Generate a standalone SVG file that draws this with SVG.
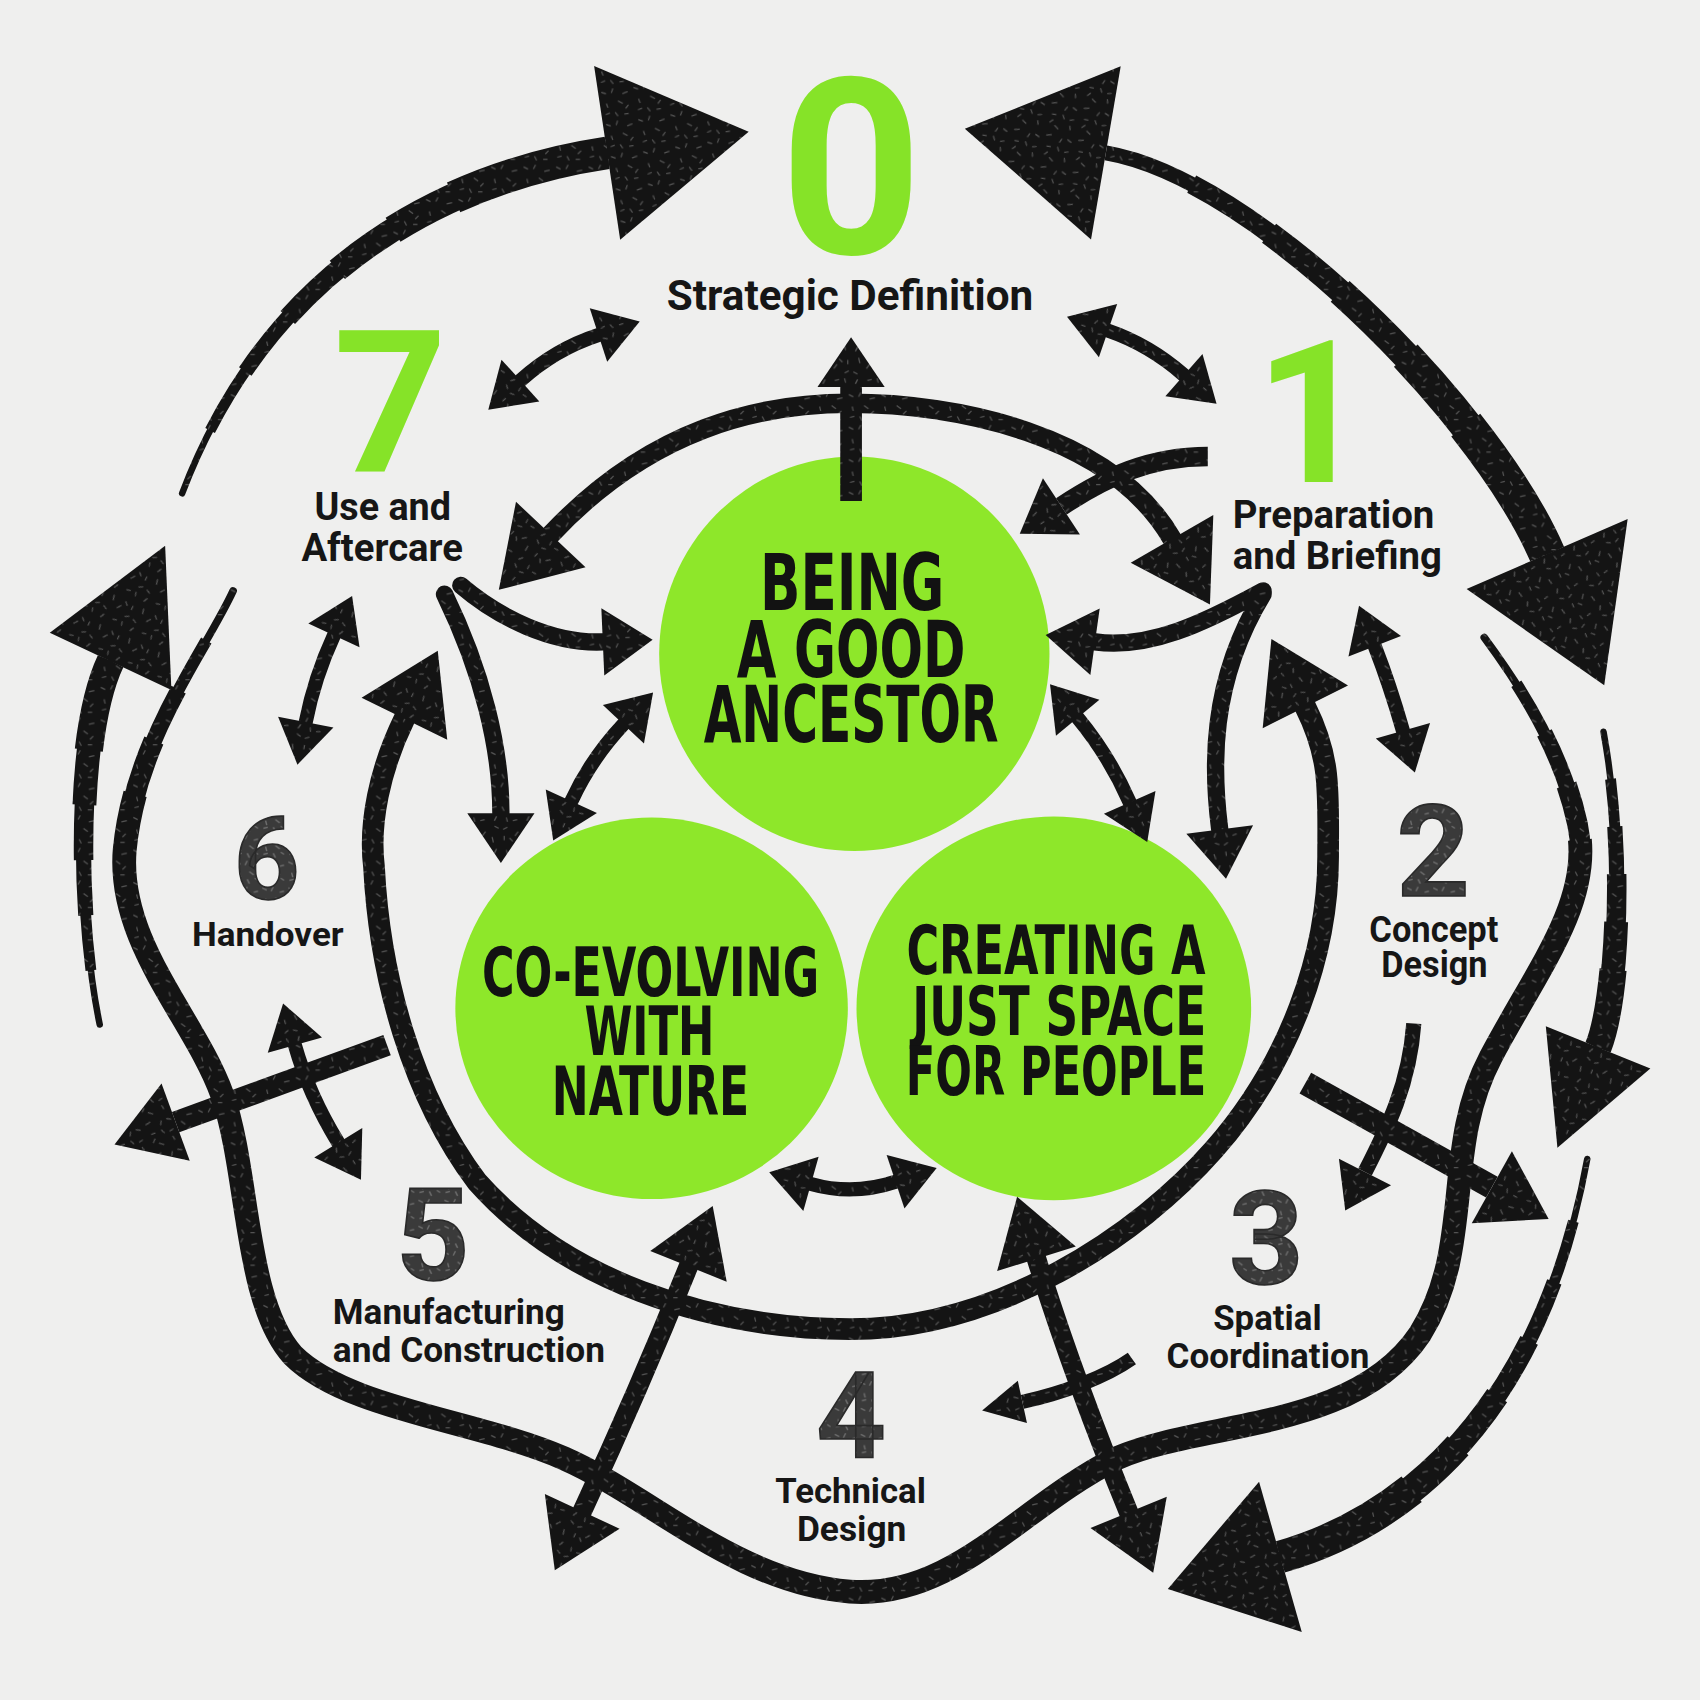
<svg xmlns="http://www.w3.org/2000/svg" xmlns:xlink="http://www.w3.org/1999/xlink" width="1700" height="1700" viewBox="0 0 1700 1700">
<defs>
<pattern id="tex" width="30" height="30" patternUnits="userSpaceOnUse">
<rect width="30" height="30" fill="#141414"/>
<path d="M3,4 l4,2 M14,2 l-2,4 M22,8 l5,-1 M6,15 l1,4 M17,14 l4,3 M26,19 l-3,3 M4,25 l4,-1 M13,24 l2,4 M21,27 l4,0" stroke="#555" stroke-width="1.1" fill="none"/>
</pattern>
<pattern id="tex2" width="24" height="24" patternUnits="userSpaceOnUse">
<rect width="24" height="24" fill="#3a3a3a"/>
<path d="M2,3 l4,2 M12,2 l-2,4 M18,7 l4,-1 M5,13 l1,4 M14,12 l4,3 M3,20 l4,-1 M12,19 l2,4 M19,18 l3,2" stroke="#6e6e6e" stroke-width="1.3" fill="none"/>
</pattern>
<marker id="hXL" markerUnits="userSpaceOnUse" orient="auto-start-reverse" overflow="visible" markerWidth="1" markerHeight="1"><path d="M0,-81 L132,0 L0,81 Z" fill="url(#tex)"/></marker>
<marker id="hBR" markerUnits="userSpaceOnUse" orient="auto-start-reverse" overflow="visible" markerWidth="1" markerHeight="1"><path d="M0,-72 L108,0 L0,72 Z" fill="url(#tex)"/></marker>
<marker id="hL" markerUnits="userSpaceOnUse" orient="auto-start-reverse" overflow="visible" markerWidth="1" markerHeight="1"><path d="M0,-62 L118,0 L0,62 Z" fill="url(#tex)"/></marker>
<marker id="h4" markerUnits="userSpaceOnUse" orient="auto-start-reverse" overflow="visible" markerWidth="1" markerHeight="1"><path d="M0,-52 L100,0 L0,52 Z" fill="url(#tex)"/></marker>
<marker id="hM" markerUnits="userSpaceOnUse" orient="auto-start-reverse" overflow="visible" markerWidth="1" markerHeight="1"><path d="M0,-44 L70,0 L0,44 Z" fill="url(#tex)"/></marker>
<marker id="hLD" markerUnits="userSpaceOnUse" orient="auto-start-reverse" overflow="visible" markerWidth="1" markerHeight="1"><path d="M0,-38 L60,0 L0,38 Z" fill="url(#tex)"/></marker>
<marker id="hS" markerUnits="userSpaceOnUse" orient="auto-start-reverse" overflow="visible" markerWidth="1" markerHeight="1"><path d="M0,-31 L46,0 L0,31 Z" fill="url(#tex)"/></marker>
<marker id="hS2" markerUnits="userSpaceOnUse" orient="auto-start-reverse" overflow="visible" markerWidth="1" markerHeight="1"><path d="M0,-27 L40,0 L0,27 Z" fill="url(#tex)"/></marker>
<marker id="hXS" markerUnits="userSpaceOnUse" orient="auto-start-reverse" overflow="visible" markerWidth="1" markerHeight="1"><path d="M0,-26 L40,0 L0,26 Z" fill="url(#tex)"/></marker>
<marker id="hT" markerUnits="userSpaceOnUse" orient="auto-start-reverse" overflow="visible" markerWidth="1" markerHeight="1"><path d="M0,-20 L38,0 L0,20 Z" fill="url(#tex)"/></marker>
<path id="pA" pathLength="100" d="M560,141 C420,162 250,240 168,455"/>
<path id="pB" pathLength="100" d="M1020,141 C1160,165 1370,380 1427,511"/>
<path id="pC" pathLength="100" d="M102,610 C69,680 72,850 92,945"/>
<path id="pD" pathLength="100" d="M215,545 C190,600 125,680 115,784 C108,870 180,940 205,1010 C230,1080 225,1200 270,1250 C320,1300 440,1310 520,1345 C600,1380 680,1460 784,1468 C880,1475 940,1390 1030,1345 C1110,1310 1250,1320 1310,1230 C1360,1150 1330,1060 1375,975 C1420,890 1470,830 1455,760 C1440,690 1400,630 1369,588"/>
<path id="pE" pathLength="100" d="M1474,966 C1491,924 1500,790 1479,675"/>
<path id="pF" pathLength="100" d="M1181,1436 C1290,1405 1420,1310 1464,1069"/>
</defs>
<style>
.k{fill:none;stroke:url(#tex);stroke-linecap:round;stroke-linejoin:round}
.b{fill:none;stroke:url(#tex);stroke-linecap:butt}
.circ{fill:#8ee72a}
.ct{font-family:"Liberation Sans Narrow","DejaVu Sans Condensed",Roboto,sans-serif;font-weight:700;fill:#121212;text-anchor:middle}
.lbl{font-family:Roboto,"Liberation Sans",sans-serif;font-weight:700;fill:#161616}
.gn{font-family:Roboto,"Liberation Sans",sans-serif;font-weight:700;fill:#86e328;text-anchor:middle}
.dn{font-family:Roboto,"Liberation Sans",sans-serif;font-weight:700;fill:url(#tex2);stroke:#2a2a2a;stroke-width:1.5;text-anchor:middle}
</style>
<rect width="1700" height="1700" fill="#efefee"/>
<g transform="scale(1.084184)">
<g id="circle-ancestor">
<ellipse class="circ" cx="788" cy="603" rx="180" ry="182"/>
<text class="ct" font-size="72"><tspan x="786" y="563" textLength="170" lengthAdjust="spacingAndGlyphs">BEING</tspan><tspan x="785" y="624" textLength="211" lengthAdjust="spacingAndGlyphs">A GOOD</tspan><tspan x="785" y="684" textLength="272" lengthAdjust="spacingAndGlyphs">ANCESTOR</tspan></text>
</g>
<g id="circle-nature">
<ellipse class="circ" cx="601" cy="930" rx="181" ry="176"/>
<text class="ct" font-size="62"><tspan x="600" y="919" textLength="311" lengthAdjust="spacingAndGlyphs">CO-EVOLVING</tspan><tspan x="599" y="973" textLength="120" lengthAdjust="spacingAndGlyphs">WITH</tspan><tspan x="600" y="1028" textLength="182" lengthAdjust="spacingAndGlyphs">NATURE</tspan></text>
</g>
<g id="circle-people">
<ellipse class="circ" cx="972" cy="930" rx="182" ry="177"/>
<text class="ct" font-size="62"><tspan x="974" y="898" textLength="276" lengthAdjust="spacingAndGlyphs">CREATING A</tspan><tspan x="977" y="955" textLength="271" lengthAdjust="spacingAndGlyphs">JUST SPACE</tspan><tspan x="974" y="1010" textLength="277" lengthAdjust="spacingAndGlyphs">FOR PEOPLE</tspan></text>
</g>
<g id="connectors">
<use href="#pA" class="k" stroke-width="6" marker-start="url(#hXL)"/>
<use href="#pA" class="b" stroke-width="10" stroke-dasharray="88 200"/>
<use href="#pA" class="b" stroke-width="14" stroke-dasharray="76 200"/>
<use href="#pA" class="b" stroke-width="18" stroke-dasharray="64 200"/>
<use href="#pA" class="b" stroke-width="22" stroke-dasharray="52 200"/>
<use href="#pA" class="b" stroke-width="26" stroke-dasharray="40 200"/>
<use href="#pA" class="b" stroke-width="30" stroke-dasharray="28 200"/>
<use href="#pB" class="b" stroke-width="14" marker-start="url(#hXL)" marker-end="url(#hXL)"/>
<use href="#pB" class="b" stroke-width="18" stroke-dasharray="85 200" stroke-dashoffset="-15"/>
<use href="#pB" class="b" stroke-width="22" stroke-dasharray="70 200" stroke-dashoffset="-30"/>
<use href="#pB" class="b" stroke-width="26" stroke-dasharray="55 200" stroke-dashoffset="-45"/>
<use href="#pB" class="b" stroke-width="30" stroke-dasharray="40 200" stroke-dashoffset="-60"/>
<use href="#pB" class="b" stroke-width="34" stroke-dasharray="25 200" stroke-dashoffset="-75"/>
<use href="#pC" class="k" stroke-width="6" marker-start="url(#hL)"/>
<use href="#pC" class="b" stroke-width="10" stroke-dasharray="85 200"/>
<use href="#pC" class="b" stroke-width="14" stroke-dasharray="70 200"/>
<use href="#pC" class="b" stroke-width="18" stroke-dasharray="55 200"/>
<use href="#pC" class="b" stroke-width="22" stroke-dasharray="40 200"/>
<use href="#pC" class="b" stroke-width="26" stroke-dasharray="25 200"/>
<use href="#pD" class="k" stroke-width="7"/>
<use href="#pD" class="b" stroke-width="11" stroke-dasharray="96 200" stroke-dashoffset="-2"/>
<use href="#pD" class="b" stroke-width="15" stroke-dasharray="92 200" stroke-dashoffset="-4"/>
<use href="#pD" class="b" stroke-width="19" stroke-dasharray="88 200" stroke-dashoffset="-6"/>
<use href="#pD" class="b" stroke-width="22" stroke-dasharray="84 200" stroke-dashoffset="-8"/>
<use href="#pE" class="k" stroke-width="6" marker-start="url(#h4)"/>
<use href="#pE" class="b" stroke-width="10" stroke-dasharray="85 200"/>
<use href="#pE" class="b" stroke-width="14" stroke-dasharray="70 200"/>
<use href="#pE" class="b" stroke-width="18" stroke-dasharray="55 200"/>
<use href="#pE" class="b" stroke-width="22" stroke-dasharray="40 200"/>
<use href="#pE" class="b" stroke-width="25" stroke-dasharray="25 200"/>
<use href="#pF" class="k" stroke-width="6" marker-start="url(#hBR)"/>
<use href="#pF" class="b" stroke-width="10" stroke-dasharray="88 200"/>
<use href="#pF" class="b" stroke-width="14" stroke-dasharray="76 200"/>
<use href="#pF" class="b" stroke-width="18" stroke-dasharray="64 200"/>
<use href="#pF" class="b" stroke-width="22" stroke-dasharray="52 200"/>
<use href="#pF" class="b" stroke-width="26" stroke-dasharray="40 200"/>
<use href="#pF" class="b" stroke-width="30" stroke-dasharray="28 200"/>
<path class="k" stroke-width="18" d="M508,493 C600,395 700,372 784,372 C880,372 1025,400 1081,497" marker-start="url(#hM)" marker-end="url(#hM)"/>
<path class="k" stroke-width="20" d="M373,663 C350,710 340,760 345,800 C350,900 380,1010 440,1090 C520,1180 650,1225 784,1226 C920,1226 1050,1140 1120,1060 C1190,980 1225,880 1225,790 C1225,730 1228,700 1204,652" marker-start="url(#hM)" marker-end="url(#hM)"/>
<path class="k" stroke-width="16" d="M556,592 C510,594 460,570 425,540" marker-start="url(#hS)"/>
<path class="k" stroke-width="16" d="M462,750 C462,690 445,620 410,548" marker-start="url(#hS)"/>
<path class="k" stroke-width="16" d="M1010,592 C1060,599 1110,575 1165,545" marker-start="url(#hS)"/>
<path class="k" stroke-width="16" d="M1125,765 C1118,710 1115,630 1165,548" marker-start="url(#hS)"/>
<path class="b" stroke-width="20" d="M785,357 L785,462" marker-start="url(#hS)"/>
<path class="b" stroke-width="18" d="M979,467 C1020,440 1060,421 1114,421" marker-start="url(#hS)"/>
<path class="k" stroke-width="13" d="M480,351 Q512,322 552,309" marker-start="url(#hXS)" marker-end="url(#hXS)"/>
<path class="k" stroke-width="13" d="M1022,305 Q1060,318 1092,346" marker-start="url(#hXS)" marker-end="url(#hXS)"/>
<path class="k" stroke-width="13" d="M308,586 Q290,625 282,666" marker-start="url(#hXS)" marker-end="url(#hXS)"/>
<path class="k" stroke-width="13" d="M1268,596 Q1282,632 1294,674" marker-start="url(#hXS)" marker-end="url(#hXS)"/>
<path class="k" stroke-width="13" d="M575,668 Q545,700 527,739" marker-start="url(#hXS)" marker-end="url(#hXS)"/>
<path class="k" stroke-width="13" d="M994,662 Q1023,697 1042,740" marker-start="url(#hXS)" marker-end="url(#hXS)"/>
<path class="k" stroke-width="13" d="M748,1092 Q787,1103 826,1090" marker-start="url(#hXS)" marker-end="url(#hXS)"/>
<path class="k" stroke-width="13" d="M272,964 Q285,1010 312,1054" marker-start="url(#hXS)" marker-end="url(#hXS)"/>
<path class="k" stroke-width="18" d="M635,1168 Q590,1280 537,1394" marker-start="url(#hLD)" marker-end="url(#hLD)"/>
<path class="k" stroke-width="18" d="M956,1161 Q990,1270 1041,1395" marker-start="url(#hLD)" marker-end="url(#hLD)"/>
<path class="b" stroke-width="20" d="M162,1035 L357,964" marker-start="url(#hLD)"/>
<path class="b" stroke-width="22" d="M1376,1095 L1204,999" marker-start="url(#hLD)"/>
<path class="b" stroke-width="14" d="M1259,1081 C1280,1040 1300,1000 1304,944" marker-start="url(#hS2)"/>
<path class="b" stroke-width="13" d="M943,1293 C980,1285 1020,1270 1044,1253" marker-start="url(#hT)"/>
</g>
<g id="stage-0">
<text class="gn" x="785" y="234" font-size="228">0</text>
<text class="lbl" x="615" y="286" font-size="40" textLength="338" lengthAdjust="spacingAndGlyphs">Strategic Definition</text>
</g>
<g id="stage-1">
<text class="gn" x="1210" y="445" font-size="183">1</text>
<text class="lbl" font-size="36"><tspan x="1137" y="487" textLength="186" lengthAdjust="spacingAndGlyphs">Preparation</tspan><tspan x="1137" y="525" textLength="193" lengthAdjust="spacingAndGlyphs">and Briefing</tspan></text>
</g>
<g id="stage-2">
<text class="dn" x="1322" y="826" font-size="118">2</text>
<text class="lbl" font-size="34"><tspan x="1263" y="869" textLength="119" lengthAdjust="spacingAndGlyphs">Concept</tspan><tspan x="1274" y="901" textLength="98" lengthAdjust="spacingAndGlyphs">Design</tspan></text>
</g>
<g id="stage-3">
<text class="dn" x="1168" y="1184" font-size="120">3</text>
<text class="lbl" font-size="32"><tspan x="1119" y="1227" textLength="100" lengthAdjust="spacingAndGlyphs">Spatial</tspan><tspan x="1076" y="1262" textLength="187" lengthAdjust="spacingAndGlyphs">Coordination</tspan></text>
</g>
<g id="stage-4">
<text class="dn" x="785" y="1345" font-size="112">4</text>
<text class="lbl" font-size="32"><tspan x="715" y="1386" textLength="139" lengthAdjust="spacingAndGlyphs">Technical</tspan><tspan x="735" y="1421" textLength="101" lengthAdjust="spacingAndGlyphs">Design</tspan></text>
</g>
<g id="stage-5">
<text class="dn" x="399" y="1181" font-size="118">5</text>
<text class="lbl" font-size="32"><tspan x="307" y="1221" textLength="214" lengthAdjust="spacingAndGlyphs">Manufacturing</tspan><tspan x="307" y="1256" textLength="251" lengthAdjust="spacingAndGlyphs">and Construction</tspan></text>
</g>
<g id="stage-6">
<text class="dn" x="246" y="829" font-size="106">6</text>
<text class="lbl" x="177" y="873" font-size="31" textLength="140" lengthAdjust="spacingAndGlyphs">Handover</text>
</g>
<g id="stage-7">
<text class="gn" x="360" y="435" font-size="183">7</text>
<text class="lbl" font-size="36"><tspan x="290" y="480" textLength="126" lengthAdjust="spacingAndGlyphs">Use and</tspan><tspan x="278" y="517" textLength="149" lengthAdjust="spacingAndGlyphs">Aftercare</tspan></text>
</g>
</g>
</svg>
